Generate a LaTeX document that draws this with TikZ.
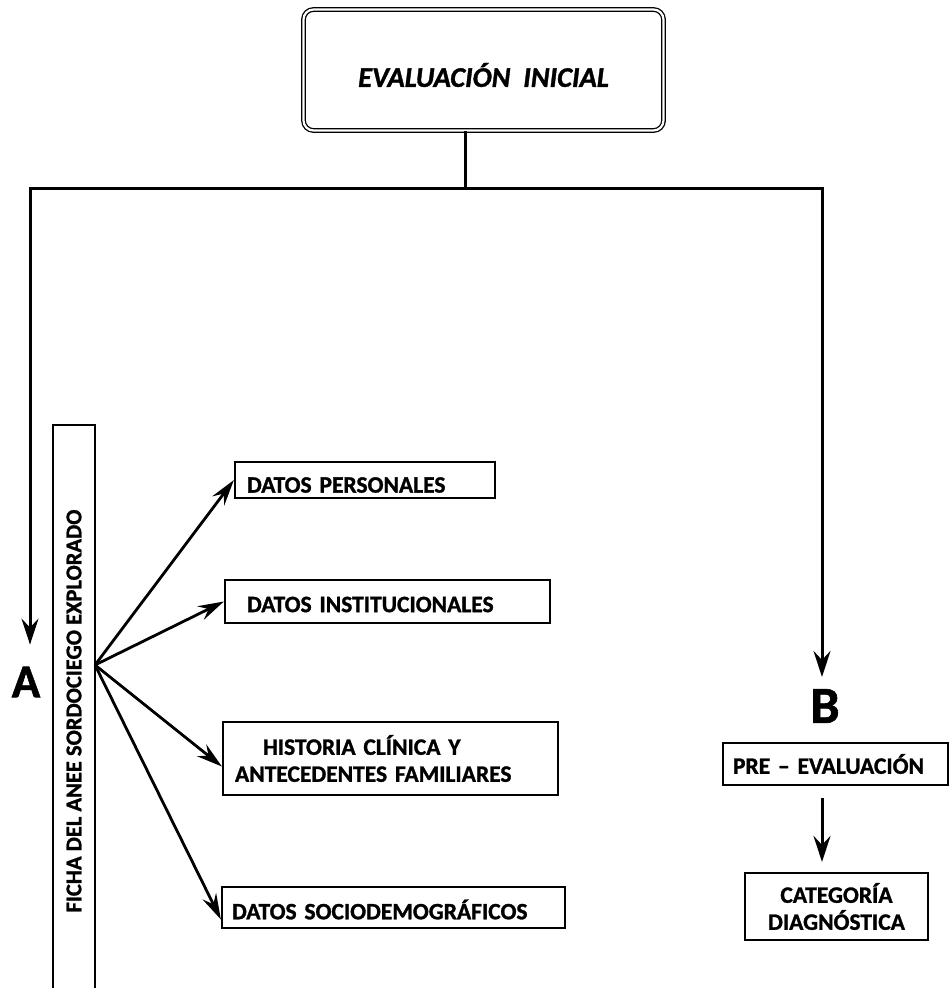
\documentclass[tikz,border=0pt]{standalone}
\usepackage{fontspec}
\setmainfont{Carlito}[BoldFeatures={FakeBold=1.2},BoldItalicFeatures={FakeBold=1.2}]
\usetikzlibrary{arrows.meta}
\newcommand{\lowered}[2]{\raisebox{-#1}[\height][\depth]{#2}}
\begin{document}
\begin{tikzpicture}[x=1pt,y=-1pt,
  conn/.style={line width=3pt},
  arr/.style={line width=3pt,-{Stealth[length=26pt,width=17pt,inset=9pt]}},
  fanarr/.style={line width=2.8pt,-{Stealth[length=26pt,width=15pt,inset=9pt]}},
  tbox/.style={draw,line width=2.2pt,font=\bfseries\fontsize{23.5}{27}\selectfont,inner ysep=0pt,align=left,anchor=center},
  big/.style={font=\bfseries\fontsize{52}{52}\selectfont,inner sep=0pt}]
\useasboundingbox (0,0) rectangle (950,988);
\fill[white] (0,0) rectangle (950,988);
% top box
\node[draw,double,double distance=2.2pt,line width=1.3pt,rounded corners=10pt,
  minimum width=360pt,minimum height=121pt,
  font=\bfseries\itshape\fontsize{28.5}{32}\selectfont] (top) at (483.5,70) {\lowered{5pt}{EVALUACIÓN\ \ INICIAL}};
\coordinate (j) at (465,188);
\coordinate (cl) at (30,188);
\coordinate (cr) at (822,188);
\draw[conn] (top.south -| j) -- (j);
% letters
\node[big,font=\bfseries\fontsize{47}{47}\selectfont] (A) at (26,682) {A};
\node[big] (B) at (825,706) {B};
\draw[arr,shorten >=22pt] (cl -| cr) -- (cl) -- (cl |- A.north);
\draw[arr,shorten >=12pt] (j) -- (cr) -- (cr |- B.north);
% ficha vertical box
\node[draw,line width=2.2pt,rotate=90,minimum width=572pt,minimum height=42pt,inner sep=0pt,
  font=\bfseries\fontsize{22.5}{26}\selectfont] (ficha) at (74,711) {FICHA DEL ANEE SORDOCIEGO EXPLORADO};
\coordinate (fan) at (95,665);
% right boxes
\node[tbox,inner xsep=12pt,text width=236pt,minimum height=36pt] (p1) at (365,480) {\lowered{5pt}{DATOS PERSONALES}};
\node[tbox,inner xsep=22pt,text width=281pt,minimum height=43pt] (p2) at (387.5,601.5) {\lowered{3pt}{DATOS INSTITUCIONALES}};
\node[tbox,inner xsep=12pt,text width=311pt,minimum height=73pt] (p3) at (390.5,758.5) {\hspace*{28pt}HISTORIA CLÍNICA Y\\ANTECEDENTES FAMILIARES};
\node[tbox,inner xsep=10pt,text width=323pt,minimum height=41pt] (p4) at (393.5,907.5) {\lowered{2pt}{DATOS SOCIODEMOGRÁFICOS}};
\draw[fanarr] (fan) -- (p1.west);
\draw[fanarr] (fan) -- (p2.west);
\draw[fanarr] (fan) -- ([yshift=-8pt]p3.west);
\draw[fanarr] (fan) -- ([yshift=-12pt]p4.west);
% B branch
\node[tbox,inner xsep=10pt,text width=205pt,minimum height=42pt] (pre) at (835.5,764) {PRE -- EVALUACIÓN};
\node[tbox,align=center,inner xsep=0pt,text width=183pt,minimum height=67pt] (cat) at (836.5,906.5) {CATEGORÍA\\DIAGNÓSTICA};
\draw[arr,shorten <=12pt,shorten >=10pt] (cr |- pre.south) -- (cr |- cat.north);
\end{tikzpicture}
\end{document}
